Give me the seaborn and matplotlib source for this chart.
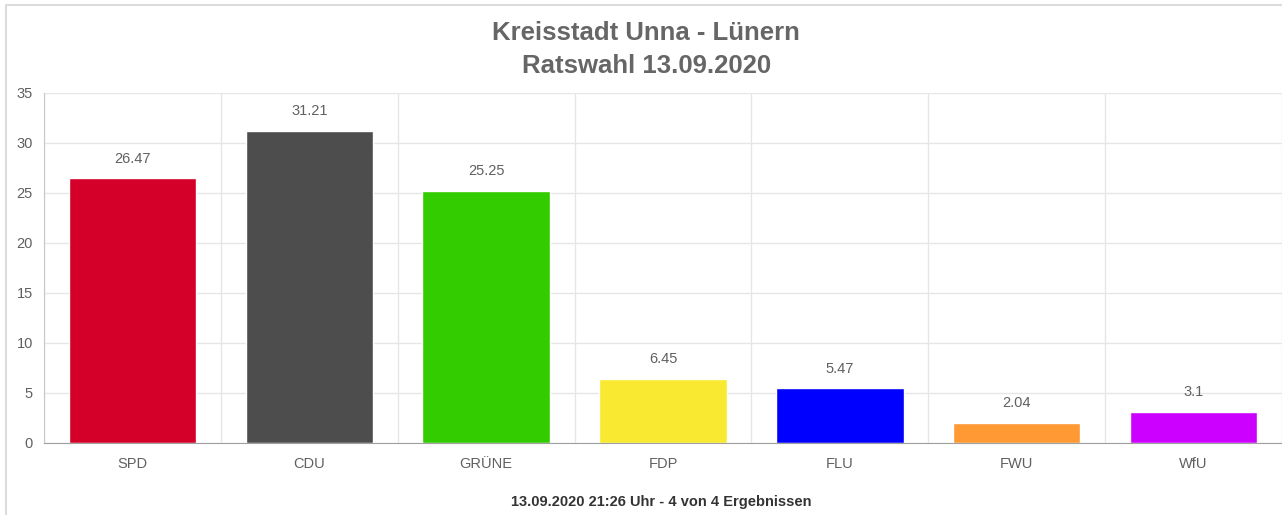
import matplotlib
matplotlib.use("Agg")
import matplotlib.pyplot as plt
import numpy as np
import pandas as pd
import seaborn as sns
from matplotlib.patches import Rectangle

# Wahlergebnis Ratswahl Unna - Lünern
parteien = ["SPD", "CDU", "GRÜNE", "FDP", "FLU", "FWU", "WfU"]
prozent = [26.47, 31.21, 25.25, 6.45, 5.47, 2.04, 3.1]
farben = ["#d50029", "#4d4d4d", "#33cc00", "#f9e930", "#0000ff", "#ff9933", "#cc00ff"]
y_ticks = [0, 5, 10, 15, 20, 25, 30, 35]

df = pd.DataFrame({"Partei": parteien, "Prozent": prozent})

sns.set_style("white")
plt.rcParams["font.family"] = ["Liberation Sans", "DejaVu Sans"]

fig = plt.figure(figsize=(12.82, 5.15), dpi=100)
ax = fig.add_axes([44 / 1282, 1 - 443 / 515, 1 - 44 / 1282, 350 / 515])

sns.barplot(data=df, x="Partei", y="Prozent", hue="Partei",
            palette=dict(zip(parteien, farben)), legend=False,
            width=0.72, saturation=1, ax=ax)

# Wertebeschriftung über den Balken
for cont in ax.containers:
    ax.bar_label(cont, labels=[f"{v:g}" for v in cont.datavalues],
                 padding=9, fontsize=10.5, color="#606060")

ax.set_ylim(0, 35)
ax.set_xlim(-0.5, len(parteien) - 0.5)
ax.set_yticks(y_ticks)
ax.set_xlabel("")
ax.set_ylabel("")

# Gitter: horizontale Linien und Kategorietrenner
ax.set_xticks(np.arange(-0.5, len(parteien), 1), minor=True)
ax.grid(axis="y", which="major", color="#e6e6e6", linewidth=1)
ax.grid(axis="x", which="minor", color="#e6e6e6", linewidth=1)
ax.set_axisbelow(True)
ax.tick_params(axis="x", which="major", length=0, pad=10, labelsize=10.5, labelcolor="#606060")
ax.tick_params(axis="x", which="minor", length=9, color="#e6e6e6", width=1)
ax.tick_params(axis="y", length=5, color="#c0c0c0", labelsize=10.5, labelcolor="#606060", pad=3)

for s in ["top", "right"]:
    ax.spines[s].set_visible(False)
ax.spines["left"].set_color("#c8c8c8")
ax.spines["bottom"].set_color("#a0a0a0")

# Titel und Fußzeile
fig.text(0.504, 1 - 33 / 515, "Kreisstadt Unna - Lünern", ha="center", va="center",
         fontsize=18.5, fontweight="bold", color="#666666")
fig.text(0.504, 1 - 66 / 515, "Ratswahl 13.09.2020", ha="center", va="center",
         fontsize=18.5, fontweight="bold", color="#666666")
fig.text(0.516, 1 - 502 / 515, "13.09.2020 21:26 Uhr - 4 von 4 Ergebnissen",
         ha="center", va="center", fontsize=10.5, fontweight="bold", color="#333333")

# Rahmen um das Diagramm
fig.patches.append(Rectangle((6 / 1282, -0.05), 1.2, 1 - 5 / 515 + 0.05,
                             transform=fig.transFigure, fill=False,
                             edgecolor="#dcdcdc", linewidth=1.5, zorder=0))

fig.savefig("out.png", dpi=100)
